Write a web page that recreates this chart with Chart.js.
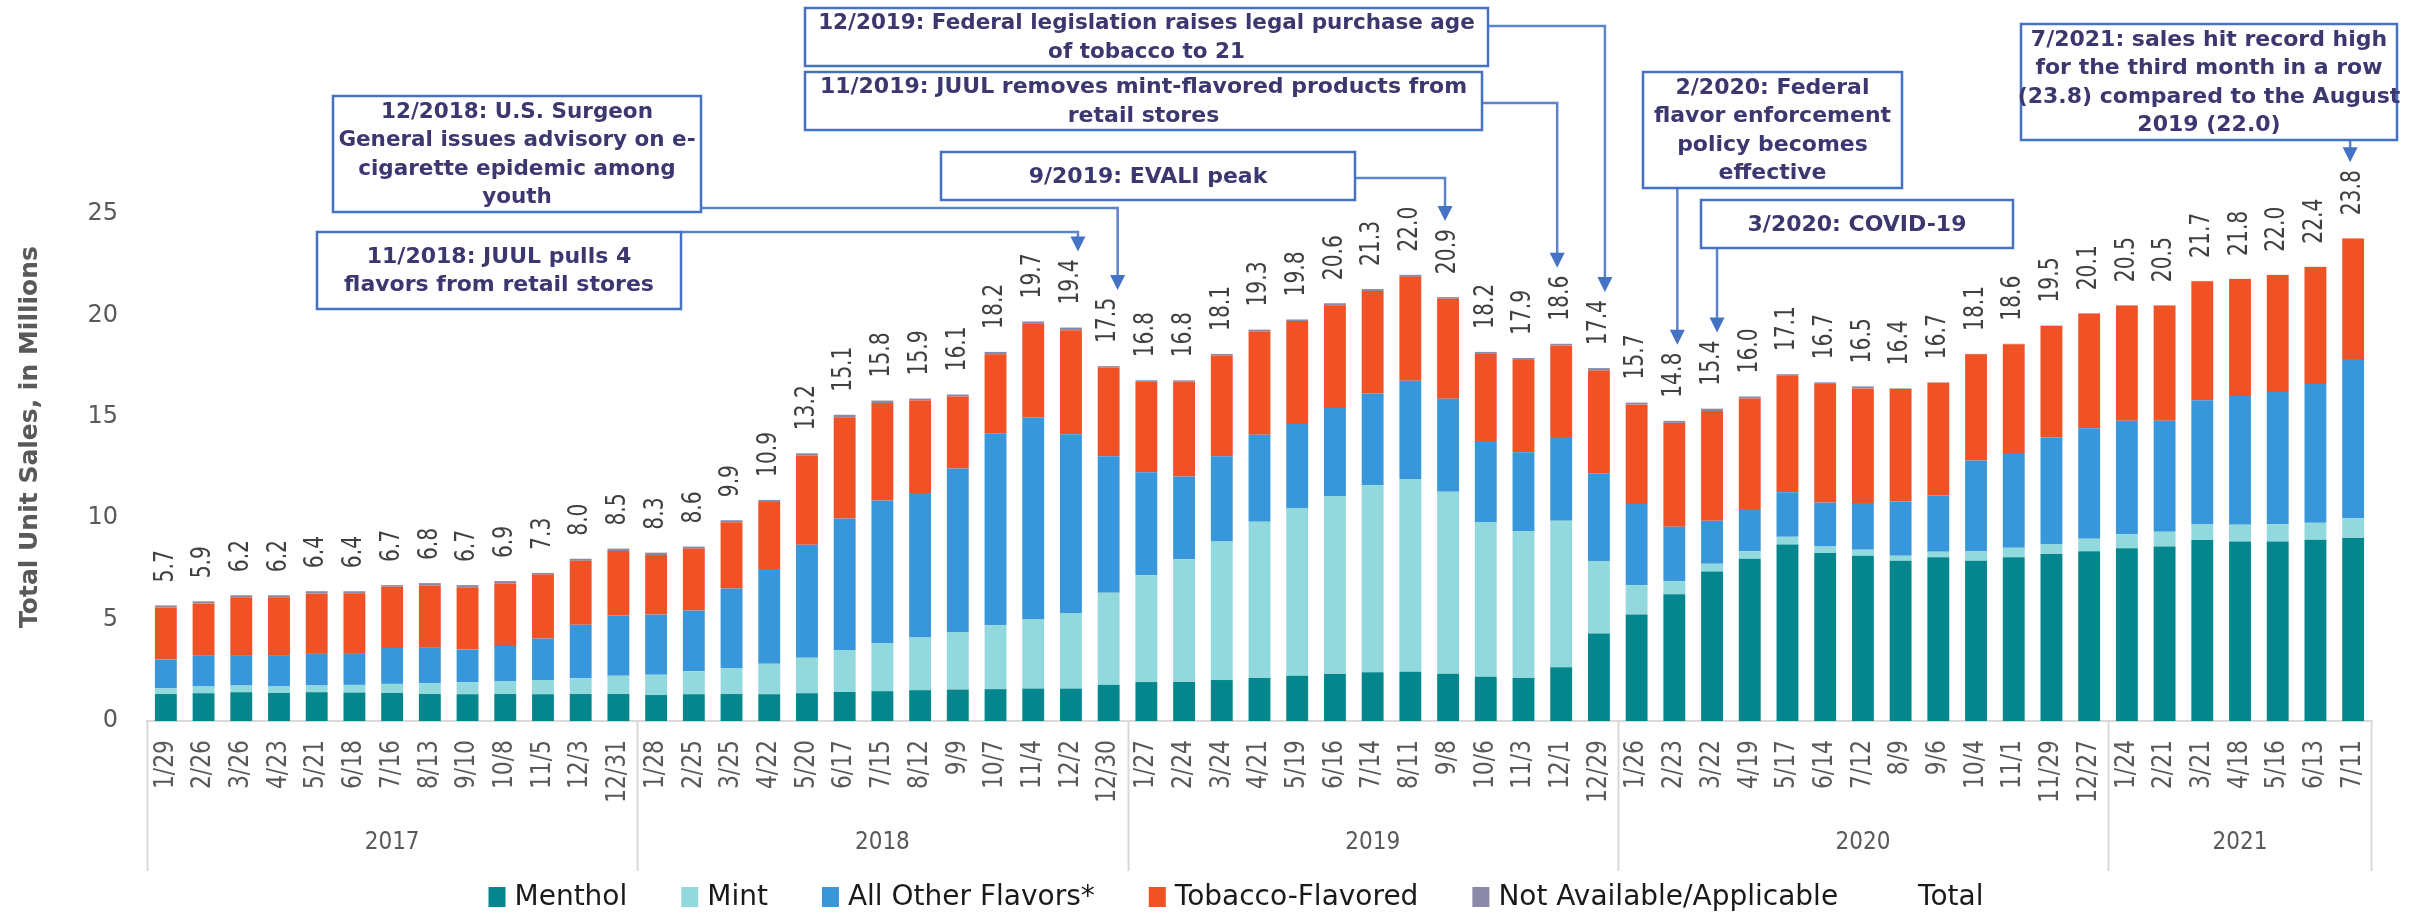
<!DOCTYPE html>
<html>
<head>
<meta charset="utf-8">
<script src="https://cdn.jsdelivr.net/npm/chart.js@4.4.1/dist/chart.umd.min.js"></script>
<style>
  html, body { margin: 0; padding: 0; background: #fff; }
  #wrap { position: relative; width: 2409px; height: 915px; }
</style>
</head>
<body>
<div id="wrap"><canvas id="salesChart"></canvas></div>
<script>
// 4-week periods, grouped by year on the axis
const dateLabels = [
  "1/29", "2/26", "3/26", "4/23", "5/21", "6/18", "7/16", "8/13", "9/10", "10/8", "11/5", "12/3", "12/31",
  "1/28", "2/25", "3/25", "4/22", "5/20", "6/17", "7/15", "8/12", "9/9", "10/7", "11/4", "12/2", "12/30",
  "1/27", "2/24", "3/24", "4/21", "5/19", "6/16", "7/14", "8/11", "9/8", "10/6", "11/3", "12/1", "12/29",
  "1/26", "2/23", "3/22", "4/19", "5/17", "6/14", "7/12", "8/9", "9/6", "10/4", "11/1", "11/29", "12/27",
  "1/24", "2/21", "3/21", "4/18", "5/16", "6/13", "7/11"
];
const yearLabels = ["2017", "2018", "2019", "2020", "2021"];
const yearSizes = [13, 13, 13, 13, 7];

// unit sales in millions
const menthol = [
  1.33, 1.37, 1.42, 1.38, 1.42, 1.40, 1.38, 1.33, 1.32, 1.33, 1.32, 1.33, 1.33,
  1.28, 1.32, 1.33, 1.32, 1.37, 1.43, 1.47, 1.52, 1.55, 1.57, 1.60, 1.60, 1.78,
  1.92, 1.93, 2.02, 2.12, 2.23, 2.32, 2.40, 2.43, 2.33, 2.18, 2.12, 2.65, 4.32,
  5.25, 6.25, 7.37, 8.00, 8.70, 8.28, 8.15, 7.90, 8.08, 7.90, 8.08, 8.23, 8.37,
  8.52, 8.60, 8.92, 8.85, 8.85, 8.94, 9.02
];
const mint = [
  0.28, 0.33, 0.33, 0.32, 0.33, 0.38, 0.45, 0.53, 0.60, 0.62, 0.70, 0.78, 0.90,
  1.00, 1.13, 1.28, 1.50, 1.75, 2.07, 2.37, 2.60, 2.82, 3.15, 3.40, 3.72, 4.55,
  5.27, 6.05, 6.83, 7.70, 8.25, 8.78, 9.22, 9.50, 8.98, 7.63, 7.25, 7.22, 3.57,
  1.45, 0.65, 0.38, 0.37, 0.38, 0.32, 0.30, 0.25, 0.27, 0.48, 0.46, 0.50, 0.62,
  0.69, 0.73, 0.77, 0.83, 0.85, 0.83, 0.98
];
const otherFlavors = [
  1.42, 1.52, 1.50, 1.55, 1.60, 1.57, 1.77, 1.78, 1.60, 1.75, 2.05, 2.63, 2.97,
  2.97, 3.00, 3.92, 4.67, 5.57, 6.48, 7.03, 7.12, 8.08, 9.47, 9.97, 8.82, 6.73,
  5.07, 4.08, 4.20, 4.30, 4.17, 4.33, 4.53, 4.85, 4.58, 4.00, 3.88, 4.13, 4.33,
  4.00, 2.68, 2.12, 2.08, 2.20, 2.18, 2.30, 2.67, 2.77, 4.47, 4.63, 5.25, 5.44,
  5.60, 5.48, 6.13, 6.35, 6.52, 6.85, 7.85
];
const tobaccoFlavored = [
  2.57, 2.58, 2.85, 2.85, 2.93, 2.95, 3.02, 3.04, 3.06, 3.08, 3.15, 3.16, 3.18,
  2.93, 3.05, 3.27, 3.31, 4.39, 5.00, 4.81, 4.56, 3.55, 3.89, 4.61, 5.13, 4.37,
  4.46, 4.67, 4.97, 5.08, 5.07, 5.07, 5.05, 5.12, 4.93, 4.29, 4.55, 4.52, 5.06,
  4.90, 5.12, 5.41, 5.45, 5.74, 5.84, 5.65, 5.55, 5.56, 5.23, 5.41, 5.50, 5.66,
  5.68, 5.68, 5.87, 5.76, 5.77, 5.77, 5.94
];
const notAvailable = [
  0.10, 0.10, 0.10, 0.10, 0.12, 0.10, 0.08, 0.12, 0.12, 0.12, 0.08, 0.10, 0.12,
  0.12, 0.10, 0.10, 0.10, 0.12, 0.12, 0.12, 0.10, 0.10, 0.12, 0.12, 0.13, 0.07,
  0.08, 0.07, 0.08, 0.10, 0.08, 0.10, 0.10, 0.10, 0.08, 0.10, 0.10, 0.08, 0.12,
  0.10, 0.10, 0.12, 0.10, 0.08, 0.08, 0.10, 0.03, 0.02, 0.02, 0.02, 0.02, 0.01,
  0.01, 0.01, 0.01, 0.01, 0.01, 0.01, 0.01
];
const totals = [
  5.7, 5.9, 6.2, 6.2, 6.4, 6.4, 6.7, 6.8, 6.7, 6.9, 7.3, 8.0, 8.5,
  8.3, 8.6, 9.9, 10.9, 13.2, 15.1, 15.8, 15.9, 16.1, 18.2, 19.7, 19.4, 17.5,
  16.8, 16.8, 18.1, 19.3, 19.8, 20.6, 21.3, 22.0, 20.9, 18.2, 17.9, 18.6, 17.4,
  15.7, 14.8, 15.4, 16.0, 17.1, 16.7, 16.5, 16.4, 16.7, 18.1, 18.6, 19.5, 20.1,
  20.5, 20.5, 21.7, 21.8, 22.0, 22.4, 23.8
];

// callout boxes: text + box rect + which bar the arrow points to
const events = [
  { lines: ["12/2018: U.S. Surgeon", "General issues advisory on e-", "cigarette epidemic among", "youth"],
    box: [333, 96, 368, 116], target: 25, dx: 9, from: "right", fromY: 208, size: 21.5 },
  { lines: ["11/2018: JUUL pulls 4", "flavors from retail stores"],
    box: [317, 232, 364, 77], target: 24, dx: 7, from: "right", fromY: 232 },
  { lines: ["9/2019: EVALI peak"],
    box: [941, 152, 414, 48], target: 34, dx: -3, from: "right", fromY: 178 },
  { lines: ["11/2019: JUUL removes mint-flavored products from", "retail stores"],
    box: [805, 72, 677, 58], target: 37, dx: -4, from: "right", fromY: 103 },
  { lines: ["12/2019: Federal legislation raises legal purchase age", "of tobacco to 21"],
    box: [805, 8, 683, 58], target: 38, dx: 6, from: "right", fromY: 26, size: 21.5 },
  { lines: ["2/2020: Federal", "flavor enforcement", "policy becomes", "effective"],
    box: [1643, 72, 259, 116], target: 40, dx: 3, from: "bottom" },
  { lines: ["3/2020: COVID-19"],
    box: [1701, 200, 312, 48], target: 41, dx: 5, from: "bottom" },
  { lines: ["7/2021: sales hit record high", "for the third month in a row", "(23.8) compared to the August", "2019 (22.0)"],
    box: [2021, 24, 376, 116], target: 58, dx: -3, from: "bottom" },
];

const FONT = '"DejaVu Sans", Verdana, sans-serif';
const AXIS_GRAY = "#595959";
const LABEL_GAP = 23;   // space between bar top and its total label
const LABEL_SIZE = 26;
const LABEL_SQUEEZE = 0.78;

// rotated (bottom-to-top) text, squeezed along the text direction
function drawVertical(ctx, text, x, y, size, squeeze, align, color) {
  ctx.save();
  ctx.translate(x, y);
  ctx.rotate(-Math.PI / 2);
  ctx.scale(squeeze, 1);
  ctx.font = `${size}px ${FONT}`;
  ctx.fillStyle = color;
  ctx.textAlign = align;
  ctx.textBaseline = "middle";
  ctx.fillText(text, 0, 0);
  ctx.restore();
}

const overlay = {
  id: "overlay",
  afterDraw(chart) {
    const { ctx, chartArea, scales: { x, y } } = chart;
    const totalSet = chart.data.datasets.find(d => d.label === "Total");
    const catW = x.width / dateLabels.length;

    // total labels above each bar
    const labelTops = [];
    ctx.save();
    ctx.font = `${LABEL_SIZE}px ${FONT}`;
    totalSet.data.forEach((v, i) => {
      const px = x.getPixelForValue(i);
      const py = y.getPixelForValue(v) - LABEL_GAP;
      const txt = v.toFixed(1);
      labelTops[i] = py - ctx.measureText(txt).width * LABEL_SQUEEZE;
      drawVertical(ctx, txt, px, py, LABEL_SIZE, LABEL_SQUEEZE, "left", "#404040");
    });
    ctx.restore();

    // period labels under the axis
    dateLabels.forEach((lab, i) => {
      drawVertical(ctx, lab, x.getPixelForValue(i), chartArea.bottom + 19, 26, 0.84, "right", AXIS_GRAY);
    });

    // year groups: separators + centred year text
    ctx.save();
    ctx.strokeStyle = "#d9d9d9";
    ctx.lineWidth = 2;
    let start = 0;
    const sepBottom = chartArea.bottom + 150;
    yearLabels.forEach((yr, g) => {
      const left = x.getPixelForValue(start) - catW / 2;
      const right = x.getPixelForValue(start + yearSizes[g] - 1) + catW / 2;
      ctx.beginPath();
      ctx.moveTo(Math.round(left) + 0.5, chartArea.bottom);
      ctx.lineTo(Math.round(left) + 0.5, sepBottom);
      ctx.stroke();
      if (g === yearLabels.length - 1) {
        ctx.beginPath();
        ctx.moveTo(Math.round(right) - 0.5, chartArea.bottom);
        ctx.lineTo(Math.round(right) - 0.5, sepBottom);
        ctx.stroke();
      }
      ctx.save();
      ctx.translate((left + right) / 2, chartArea.bottom + 122);
      ctx.scale(0.9, 1);
      ctx.font = `24px ${FONT}`;
      ctx.fillStyle = AXIS_GRAY;
      ctx.textAlign = "center";
      ctx.textBaseline = "middle";
      ctx.fillText(yr, 0, 0);
      ctx.restore();
      start += yearSizes[g];
    });
    ctx.restore();

    // y axis title
    ctx.save();
    ctx.translate(30, 437);
    ctx.rotate(-Math.PI / 2);
    ctx.font = `bold 25px ${FONT}`;
    ctx.fillStyle = AXIS_GRAY;
    ctx.textAlign = "center";
    ctx.textBaseline = "middle";
    ctx.fillText("Total Unit Sales, in Millions", 0, 0);
    ctx.restore();

    // callouts: connectors first, then boxes, then arrow heads
    ctx.save();
    events.forEach(ev => {
      const [bx, by, bw, bh] = ev.box;
      const ax = x.getPixelForValue(ev.target) + ev.dx;
      const tipY = labelTops[ev.target] - 8;
      ctx.strokeStyle = "#5b84cf";
      ctx.lineWidth = 2.5;
      ctx.beginPath();
      if (ev.from === "right") {
        ctx.moveTo(bx + bw, ev.fromY);
        ctx.lineTo(ax, ev.fromY);
      } else {
        ctx.moveTo(ax, by + bh);
      }
      ctx.lineTo(ax, tipY - 12);
      ctx.stroke();
      ev.ax = ax;
      ev.tipY = tipY;
    });
    events.forEach(ev => {
      const [bx, by, bw, bh] = ev.box;
      ctx.fillStyle = "#ffffff";
      ctx.fillRect(bx, by, bw, bh);
      ctx.strokeStyle = "#4472c4";
      ctx.lineWidth = 2.5;
      ctx.strokeRect(bx, by, bw, bh);
      ctx.font = `bold ${ev.size || 22}px ${FONT}`;
      ctx.fillStyle = "#3d3770";
      ctx.textAlign = "center";
      ctx.textBaseline = "middle";
      const lh = 28.5;
      const cy = by + bh / 2 + 1;
      ev.lines.forEach((ln, k) => {
        ctx.fillText(ln, bx + bw / 2, cy + (k - (ev.lines.length - 1) / 2) * lh);
      });
      ctx.fillStyle = "#4472c4";
      ctx.beginPath();
      ctx.moveTo(ev.ax, ev.tipY);
      ctx.lineTo(ev.ax - 7.5, ev.tipY - 15);
      ctx.lineTo(ev.ax + 7.5, ev.tipY - 15);
      ctx.closePath();
      ctx.fill();
    });
    ctx.restore();

    // legend row
    ctx.save();
    ctx.font = `28px ${FONT}`;
    ctx.textBaseline = "middle";
    const boxW = 17, boxH = 20, boxGap = 9, itemGap = 54;
    const items = chart.data.datasets.map(d => ({
      label: d.label,
      color: d.label === "Total" ? null : d.backgroundColor,
      w: boxW + boxGap + ctx.measureText(d.label).width,
    }));
    const fullW = items.reduce((s, it) => s + it.w, 0) + itemGap * (items.length - 1);
    let lx = 1236 - fullW / 2;
    const ly = 897;
    items.forEach(it => {
      if (it.color) {
        ctx.fillStyle = it.color;
        ctx.fillRect(lx, ly - boxH / 2, boxW, boxH);
      }
      ctx.fillStyle = "#1a1a1a";
      ctx.fillText(it.label, lx + boxW + boxGap, ly + 1);
      lx += it.w + itemGap;
    });
    ctx.restore();
  },
};

const barSet = (label, data, color) => ({
  label,
  data,
  backgroundColor: color,
  borderWidth: 0,
  stack: "sales",
  categoryPercentage: 1,
  barPercentage: 0.58,
});

new Chart(document.getElementById("salesChart"), {
  type: "bar",
  data: {
    labels: dateLabels,
    datasets: [
      barSet("Menthol", menthol, "#03878c"),
      barSet("Mint", mint, "#92d9de"),
      barSet("All Other Flavors*", otherFlavors, "#3897da"),
      barSet("Tobacco-Flavored", tobaccoFlavored, "#f05125"),
      barSet("Not Available/Applicable", notAvailable, "#8c88a8"),
      {
        // carries the total labels only, nothing drawn
        type: "line",
        label: "Total",
        data: totals,
        borderColor: "rgba(0,0,0,0)",
        backgroundColor: "rgba(0,0,0,0)",
        showLine: false,
        pointRadius: 0,
        stack: "total",
      },
    ],
  },
  options: {
    responsive: true,
    maintainAspectRatio: false,
    animation: false,
    devicePixelRatio: 1,
    layout: { padding: { top: 214, right: 37, bottom: 0, left: 0 } },
    plugins: {
      legend: { display: false },
      tooltip: { enabled: false },
    },
    scales: {
      x: {
        stacked: true,
        grid: { display: false, drawTicks: false },
        border: { display: true, color: "#d9d9d9", width: 2 },
        ticks: { display: false },
        afterFit: (scale) => { scale.height = 194; },
      },
      y: {
        stacked: true,
        min: 0,
        max: 25,
        grid: { display: false, drawTicks: false },
        border: { display: false },
        ticks: {
          stepSize: 5,
          padding: 29,
          color: AXIS_GRAY,
          font: { family: FONT, size: 24 },
        },
        afterFit: (scale) => { scale.width = 147; },
      },
    },
  },
  plugins: [overlay],
});
</script>
</body>
</html>
